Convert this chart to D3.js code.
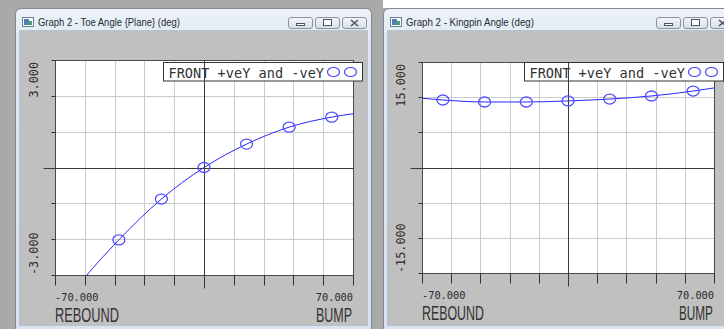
<!DOCTYPE html>
<html>
<head>
<meta charset="utf-8">
<script src="https://cdn.jsdelivr.net/npm/d3@7"></script>
<style>
  html, body { margin: 0; padding: 0; overflow: hidden; background: #fff; }
  svg { display: block; }
</style>
</head>
<body>
<svg id="chart" width="724" height="329"></svg>
<script>
// wheel travel (mm) where the solver reports a value
const travel = [-80, -60, -40, -20, 0, 20, 40, 60, 80];
const toeAngle = [-7.6, -5.05, -3.03, -1.32, 0, 0.98, 1.69, 2.11, 2.35];
const kingpinAngle = [15.2, 14.4, 13.97, 13.97, 14.2, 14.6, 15.25, 16.3, 17.7];

const xTickLabels = ['-70.000', '70.000'];
const xEndLabels = ['REBOUND', 'BUMP'];
const toeTickLabels = ['3.000', '-3.000'];
const kingpinTickLabels = ['15.000', '-15.000'];
const toeRange = [-4.5, 4.5];
const kingpinRange = [-22.5, 22.5];
const legendLabel = 'FRONT +veY and -veY';

const panels = [
  { title: 'Graph 2 - Toe Angle {Plane} (deg)', titleLen: 142, values: toeAngle, yRange: toeRange, yLabels: toeTickLabels,
    win: { x: 15, y: 8, w: 357 }, plot: { l: 55, t: 60, r: 353, b: 275 }, endLens: [64, 36] },
  { title: 'Graph 2 - Kingpin Angle (deg)', titleLen: 128, values: kingpinAngle, yRange: kingpinRange, yLabels: kingpinTickLabels,
    win: { x: 383, y: 8, w: 357 }, plot: { l: 422, t: 62, r: 714, b: 273 }, endLens: [62, 34] }
];

const W = 724, H = 329;
const mono = '"DejaVu Sans Mono", monospace';
const sans = '"Liberation Sans", Arial, sans-serif';
const svg = d3.select('#chart');

// squeeze a text horizontally to a given width with a transform (keeps bbox honest)
function squeeze(sel, x, y, len) {
  const w = sel.node().getComputedTextLength();
  sel.attr('x', 0).attr('y', 0).attr('transform', `translate(${x},${y}) scale(${len / w},1)`);
  return sel;
}

// desktop behind the windows
svg.append('rect').attr('width', W).attr('height', H).attr('fill', '#a9a9a9');
svg.append('rect').attr('x', 383).attr('width', W - 383).attr('height', 8).attr('fill', '#ffffff');

const defs = svg.append('defs');
const grad = defs.append('linearGradient').attr('id', 'frameGrad').attr('x1', 0).attr('y1', 0).attr('x2', 0).attr('y2', 1);
grad.append('stop').attr('offset', '0%').attr('stop-color', '#eef3f9');
grad.append('stop').attr('offset', '10%').attr('stop-color', '#dfe8f2');
grad.append('stop').attr('offset', '100%').attr('stop-color', '#d8e3ef');
const btnGrad = defs.append('linearGradient').attr('id', 'btnGrad').attr('x1', 0).attr('y1', 0).attr('x2', 0).attr('y2', 1);
btnGrad.append('stop').attr('offset', '0%').attr('stop-color', '#f4f6f9');
btnGrad.append('stop').attr('offset', '100%').attr('stop-color', '#d6dde6');

const crisp = v => Math.round(v) + 0.5;

panels.forEach((p, i) => {
  const g = svg.append('g');
  const wx = p.win.x, wy = p.win.y, ww = p.win.w;

  // window frame
  g.append('path')
    .attr('d', `M${wx + 0.5},${H + 2} V${wy + 6.5} Q${wx + 0.5},${wy + 0.5} ${wx + 6.5},${wy + 0.5} H${wx + ww - 6.5} Q${wx + ww - 0.5},${wy + 0.5} ${wx + ww - 0.5},${wy + 6.5} V${H + 2}`)
    .attr('fill', 'url(#frameGrad)').attr('stroke', '#7f8893');
  g.append('rect').attr('x', wx + 5).attr('y', 31).attr('width', ww - 10).attr('height', 325 - 31)
    .attr('fill', '#c0c0c0');
  g.append('rect').attr('x', wx + 4.5).attr('y', 30.5).attr('width', ww - 9).attr('height', 325 - 30)
    .attr('fill', 'none').attr('stroke', '#b4c2d2');

  // title icon + text
  g.append('rect').attr('x', wx + 7.5).attr('y', 17.5).attr('width', 11).attr('height', 9)
    .attr('fill', '#ffffff').attr('stroke', '#6d7c8c');
  g.append('rect').attr('x', wx + 9).attr('y', 19).attr('width', 5).attr('height', 6).attr('fill', '#4c7fb5');
  g.append('rect').attr('x', wx + 14).attr('y', 21).attr('width', 3).attr('height', 4).attr('fill', '#4fa36a');
  squeeze(g.append('text').attr('font-family', sans).attr('font-size', 11.6)
    .attr('fill', '#1e2a36').text(p.title), wx + 23, 25.5, p.titleLen);

  // caption buttons
  [0, 1, 2].forEach(k => {
    const bx = wx + 273 + k * 27;
    g.append('rect').attr('x', bx + 0.5).attr('y', 17.5).attr('width', 24).attr('height', 11).attr('rx', 2.5)
      .attr('fill', 'url(#btnGrad)').attr('stroke', '#8b949e');
    if (k === 0) g.append('rect').attr('x', bx + 8.5).attr('y', 23.5).attr('width', 8).attr('height', 2).attr('fill', '#fff').attr('stroke', '#4a5561');
    if (k === 1) g.append('rect').attr('x', bx + 8.5).attr('y', 19.5).attr('width', 8).attr('height', 6).attr('fill', '#fff').attr('stroke', '#4a5561');
    if (k === 2) g.append('path').attr('d', `M${bx + 9},${20} L${bx + 16},${26} M${bx + 16},${20} L${bx + 9},${26}`)
      .attr('stroke', '#4a5561').attr('stroke-width', 1.6);
  });

  // scales
  const x = d3.scaleLinear().domain(d3.extent(xTickLabels.map(Number))).range([p.plot.l, p.plot.r]);
  const y = d3.scaleLinear().domain(p.yRange).range([p.plot.b, p.plot.t]);
  const xTicks = d3.range(-70, 70.01, 14);
  const yStep = (p.yRange[1] - p.yRange[0]) / 6;
  const yTicks = d3.range(6 + 1).map(k => p.yRange[0] + k * yStep);
  const L = crisp(p.plot.l), R = crisp(p.plot.r), T = crisp(p.plot.t), B = crisp(p.plot.b);

  g.append('rect').attr('x', L).attr('y', T).attr('width', R - L).attr('height', B - T).attr('fill', '#ffffff');

  // grid
  g.selectAll('.vgrid').data(xTicks.filter(v => v !== 0)).join('line')
    .attr('x1', d => crisp(x(d))).attr('x2', d => crisp(x(d))).attr('y1', T).attr('y2', B)
    .attr('stroke', '#cbcbcb');
  g.selectAll('.hgrid').data(yTicks.filter(v => Math.abs(v) > 1e-9)).join('line')
    .attr('y1', d => crisp(y(d))).attr('y2', d => crisp(y(d))).attr('x1', L).attr('x2', R)
    .attr('stroke', '#cbcbcb');

  // frame and tick marks
  g.append('rect').attr('x', L).attr('y', T).attr('width', R - L).attr('height', B - T)
    .attr('fill', 'none').attr('stroke', '#4a4a4a');
  g.selectAll('.xt').data(xTicks).join('line')
    .attr('x1', d => crisp(x(d))).attr('x2', d => crisp(x(d))).attr('y1', B).attr('y2', B + 10)
    .attr('stroke', '#333');
  g.selectAll('.yt').data(yTicks).join('line')
    .attr('y1', d => crisp(y(d))).attr('y2', d => crisp(y(d))).attr('x1', L - 4).attr('x2', L)
    .attr('stroke', '#333');

  // legend
  const lgR = R + 9, lgL = lgR - 199, lgT = 62.5;
  g.append('rect').attr('x', lgL).attr('y', lgT).attr('width', lgR - lgL).attr('height', 18.5)
    .attr('fill', '#fff').attr('stroke', '#333');
  g.append('text').attr('x', lgL + 5).attr('y', lgT + 15.5)
    .attr('font-family', mono).attr('font-size', 13.6).attr('fill', '#333')
    .text(legendLabel);
  [29, 12].forEach(dx => {
    g.append('ellipse').attr('cx', lgR - dx).attr('cy', lgT + 9.5).attr('rx', 6).attr('ry', 4.5)
      .attr('fill', 'none').attr('stroke', '#4848ff').attr('stroke-width', 1.2);
  });

  // zero axes drawn over everything in the plot
  g.append('line').attr('x1', crisp(x(0))).attr('x2', crisp(x(0))).attr('y1', T).attr('y2', B + 13)
    .attr('stroke', '#3a3a3a');
  g.append('line').attr('y1', crisp(y(0))).attr('y2', crisp(y(0))).attr('x1', L - 12).attr('x2', R)
    .attr('stroke', '#3a3a3a');

  // data
  const clipId = 'clip' + i;
  defs.append('clipPath').attr('id', clipId).append('rect')
    .attr('x', L).attr('y', T).attr('width', R - L).attr('height', B - T);
  const pts = travel.map((t, k) => [t, p.values[k]]);
  const dg = g.append('g').attr('clip-path', `url(#${clipId})`);
  dg.append('path').datum(pts)
    .attr('d', d3.line().x(d => x(d[0])).y(d => y(d[1])).curve(d3.curveMonotoneX))
    .attr('fill', 'none').attr('stroke', '#2727ff').attr('stroke-width', 1);
  dg.selectAll('ellipse').data(pts).join('ellipse')
    .attr('cx', d => x(d[0])).attr('cy', d => y(d[1])).attr('rx', 6).attr('ry', 5)
    .attr('fill', 'none').attr('stroke', '#5050ff').attr('stroke-width', 1.3);

  // axis labels
  g.append('text').attr('x', p.plot.l).attr('y', p.plot.b + 25.5)
    .attr('font-family', mono).attr('font-size', 10.3).attr('fill', '#2a2a2a').text(xTickLabels[0]);
  g.append('text').attr('x', p.plot.r).attr('y', p.plot.b + 25.5).attr('text-anchor', 'end')
    .attr('font-family', mono).attr('font-size', 10.3).attr('fill', '#2a2a2a').text(xTickLabels[1]);
  squeeze(g.append('text').attr('font-family', sans).attr('font-size', 20)
    .attr('fill', '#333').text(xEndLabels[0]), p.plot.l, p.plot.b + 47, p.endLens[0]);
  squeeze(g.append('text').attr('font-family', sans).attr('font-size', 20)
    .attr('fill', '#333').text(xEndLabels[1]), p.plot.r - p.endLens[1] - 1, p.plot.b + 47, p.endLens[1]);

  const ylx = p.plot.l - 21;
  g.append('text').attr('transform', `translate(${ylx},${y(p.yRange[1]) + 2}) rotate(-90)`)
    .attr('text-anchor', 'end').attr('dominant-baseline', 'central')
    .attr('font-family', mono).attr('font-size', 11.8).attr('fill', '#2a2a2a').text(p.yLabels[0]);
  g.append('text').attr('transform', `translate(${ylx},${y(p.yRange[0])}) rotate(-90)`)
    .attr('text-anchor', 'start').attr('dominant-baseline', 'central')
    .attr('font-family', mono).attr('font-size', 11.8).attr('fill', '#2a2a2a').text(p.yLabels[1]);
});
</script>
</body>
</html>
